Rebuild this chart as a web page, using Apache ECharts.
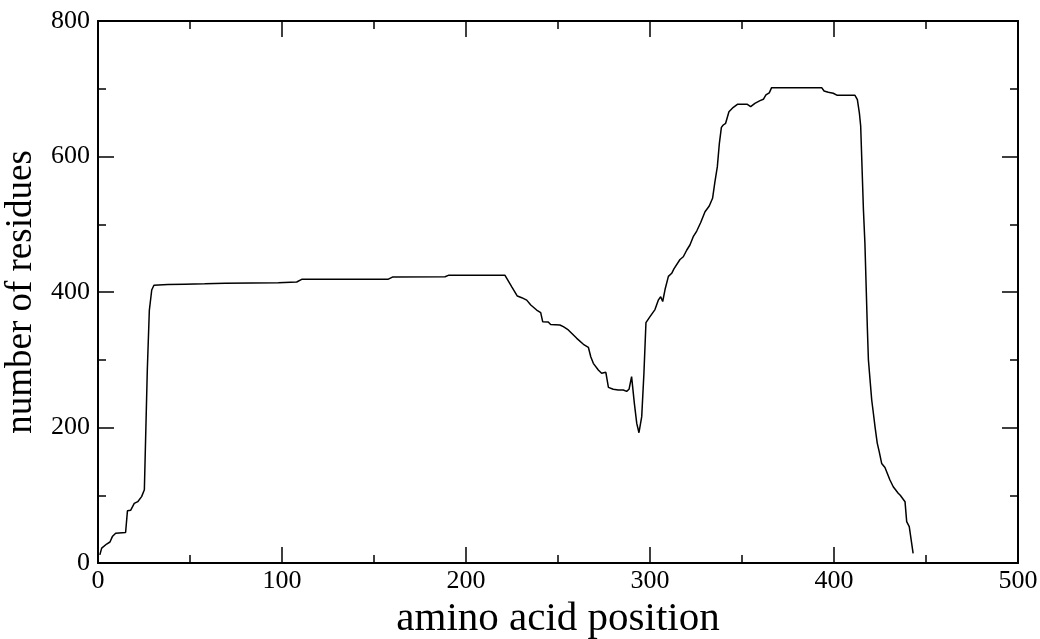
<!DOCTYPE html>
<html>
<head>
<meta charset="utf-8">
<script src="https://cdn.jsdelivr.net/npm/echarts@6/dist/echarts.min.js"></script>
<style>
html,body{margin:0;padding:0;background:#fff;}
#chart{width:1040px;height:639px;}
</style>
</head>
<body>
<div id="chart"></div>
<script>
// amino acid position (x) and number of residues (y)
const positions = [1,2,4.7,6.5,7.8,9.6,15,16,17.8,19.7,21.6,23.7,25.2,25.9,26.8,27.9,29.2,30.4,38,47,58,69,98,108,110.7,157.8,160,188.6,190.4,221.2,224.8,227.9,230.3,233,235.2,238.4,240.6,241.7,244.7,246,251,252.9,255.6,260.2,263.8,266.5,267.8,269.2,271.9,273.7,276,277.4,280,282.8,285.5,287.3,288.6,290,291.5,292.8,294,295.5,296.7,297.8,300,302.7,304.5,305.8,306.9,308.2,310,311.8,313,316.3,318.1,320,321.7,323.5,325.4,327.5,329.9,332.2,334,335.3,336.6,337.7,338.8,339.8,341.1,342.9,345.3,347.5,352.9,354.7,357,359.8,361.6,363,364.8,366.1,393.3,394.6,396.9,399.6,401.8,411.4,412.7,413.8,414.5,416,416.8,418.1,418.7,419.6,420.5,421.4,422.3,423.5,424.6,425.9,427.7,430.4,432.2,434.9,436,438.6,439.5,440.9,443];
const residues = [12,22,28,31,39,44,45,77,78,88,90.5,98,108,186,285,373,403,410,411,411.5,412,413,413.7,414.8,418.7,419,422,422.6,424.6,424.6,408,394,391.6,388,380.8,373.4,369.5,356,355.7,352,351.3,348.8,344,331.6,322.8,318.4,304.5,294.7,284.8,280,281.5,259.3,256.4,255.4,255.4,253.4,256.4,275,235.7,206,192.3,216,280,354.7,363.6,374,388,393,386,404,423,427.6,434,448,452,462,469.4,481.6,490,502.3,518.5,527,538.3,562.8,585,619.5,643,646.5,649,666,672.6,677,677,673.6,678.5,682.4,684.4,690.8,694,701.6,701.6,696.7,694.8,693.3,690.3,690.3,684,664,645,521,472,349,300,270,240.6,221,201,177,164,147,141,122.5,112.6,103,100,90.5,61,53.6,14.3];
const xTicks = [0,100,200,300,400,500];
const yTicks = [0,200,400,600,800];
const xTitle = 'amino acid position';
const yTitle = 'number of residues';

const data = positions.map((p, i) => [p, residues[i]]);
const FONT = '"Liberation Serif", "Times New Roman", serif';
const lineCol = '#000';

function axisBase(extra) {
  return Object.assign({
    type: 'value',
    splitLine: { show: false },
    axisLine: { show: true, onZero: false, lineStyle: { color: lineCol, width: 2 } },
    axisTick: { show: true, inside: true, length: 16, lineStyle: { color: lineCol, width: 1.5 } },
    minorTick: { show: true, splitNumber: 2, length: 8, lineStyle: { color: lineCol, width: 1.5 } },
    minorSplitLine: { show: false }
  }, extra);
}

const chart = echarts.init(document.getElementById('chart'), null, { renderer: 'canvas' });
chart.setOption({
  backgroundColor: '#fff',
  animation: false,
  grid: { left: 98, right: 22, top: 21, bottom: 76, outerBoundsMode: 'none' },
  xAxis: [
    axisBase({
      position: 'bottom', min: xTicks[0], max: xTicks[xTicks.length - 1], interval: 100,
      name: xTitle, nameLocation: 'middle', nameGap: 34,
      nameTextStyle: { fontFamily: FONT, fontSize: 41, color: '#000' },
      axisLabel: { show: true, margin: 5, fontFamily: FONT, fontSize: 26, color: '#000' }
    }),
    axisBase({
      position: 'top', min: xTicks[0], max: xTicks[xTicks.length - 1], interval: 100,
      axisLabel: { show: false }
    })
  ],
  yAxis: [
    axisBase({
      position: 'left', min: yTicks[0], max: yTicks[yTicks.length - 1], interval: 200,
      name: yTitle, nameLocation: 'middle', nameGap: 49,
      nameTextStyle: { fontFamily: FONT, fontSize: 37, color: '#000' },
      axisLabel: { show: true, margin: 8, fontFamily: FONT, fontSize: 26, color: '#000' }
    }),
    axisBase({
      position: 'right', min: yTicks[0], max: yTicks[yTicks.length - 1], interval: 200,
      axisLabel: { show: false }
    })
  ],
  series: [{
    type: 'line',
    xAxisIndex: 0,
    yAxisIndex: 0,
    data: data,
    showSymbol: false,
    smooth: false,
    lineStyle: { color: '#000', width: 1.5 },
    itemStyle: { color: '#000' }
  }]
});
</script>
</body>
</html>
